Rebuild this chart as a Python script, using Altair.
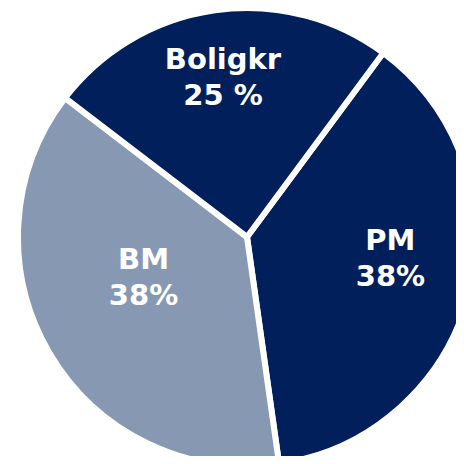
import altair as alt
import pandas as pd
import math

categories = ["PM", "BM", "Boligkr"]
values = [38, 38, 25]
labels = ["PM\n38%", "BM\n38%", "Boligkr\n25 %"]
colors = ["#001F5B", "#8799B2", "#001F5B"]

df = pd.DataFrame({"cat": categories, "val": values, "label": labels,
                   "order": [0, 1, 2]})

start = math.radians(36.5)
theta = alt.Theta("val:Q", stack=True,
                  scale=alt.Scale(range=[start, start + 2 * math.pi]))

cx, cy = 239, 229

base = alt.Chart(df)

pie = base.mark_arc(outerRadius=229, stroke="white", strokeWidth=6).encode(
    theta=theta,
    x=alt.value(cx), y=alt.value(cy),
    order=alt.Order("order:Q"),
    color=alt.Color("cat:N", scale=alt.Scale(domain=categories, range=colors), legend=None),
)

offsets = {"PM": (-2, -33), "BM": (26, -53), "Boligkr": (-3, -28)}
layers = [pie]
for c in categories:
    dx, dy = offsets[c]
    t = base.mark_text(radius=150, font="DejaVu Sans", fontWeight="bold", fontSize=29,
                       color="white", lineBreak="\n", lineHeight=36,
                       align="center", baseline="middle", dx=dx, dy=dy).encode(
        theta=theta,
        x=alt.value(cx), y=alt.value(cy),
        order=alt.Order("order:Q"),
        text="label:N",
        opacity=alt.condition(alt.datum.cat == c, alt.value(1), alt.value(0)),
    )
    layers.append(t)

chart = alt.layer(*layers).properties(
    width=448, height=448, padding=0, autosize=alt.AutoSizeParams(type="none")
).configure_view(stroke=None)

chart.save("out.html", embed_options={"renderer": "svg", "actions": False})
